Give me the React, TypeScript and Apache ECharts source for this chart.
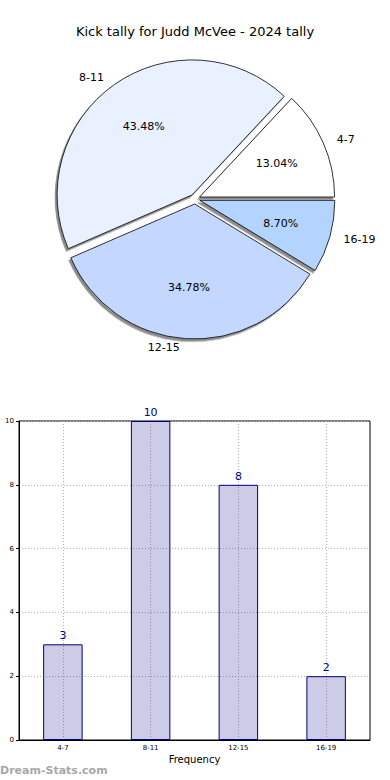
import React, { useEffect, useRef } from "react";
import * as echarts from "echarts";

const title = "Kick tally for Judd McVee - 2024 tally";
const categories = ["4-7", "8-11", "12-15", "16-19"];
const counts = [3, 10, 8, 2];
const pieColors = ["#ffffff", "#e9f0ff", "#c4d7ff", "#b3d4ff"];
const yTicks = { min: 0, max: 10, interval: 2 };
const xAxisName = "Frequency";
const yAxisName = "Number of kicks";
const watermark = "Dream-Stats.com";

const FONT = "DejaVu Sans";

export default function App() {
  const ref = useRef<HTMLDivElement>(null);
  useEffect(() => {
    const chart = echarts.init(ref.current!, undefined, { renderer: "svg" });
    const R = 135;
    const center = [195, 199];
    const pieData = categories.map((c, i) => ({
      name: c,
      value: counts[i],
      selected: true,
      itemStyle: { color: pieColors[i] },
    }));
    chart.setOption({
      animation: false,
      backgroundColor: "#ffffff",
      title: {
        text: title,
        left: "center",
        top: 20,
        textStyle: { fontFamily: FONT, fontSize: 13, fontWeight: "normal", color: "#000" },
      },
      grid: {
        left: 19,
        right: 20,
        top: 421,
        bottom: 40,
        containLabel: false,
        outerBoundsMode: "none",
        show: true,
        borderColor: "#000",
        borderWidth: 1,
        backgroundColor: "transparent",
      },
      xAxis: {
        type: "category",
        data: categories,
        name: xAxisName,
        nameLocation: "middle",
        nameGap: 14,
        nameTextStyle: { fontFamily: FONT, fontSize: 10, color: "#000" },
        axisLine: { lineStyle: { color: "#000", width: 1 } },
        axisTick: { alignWithLabel: true, length: 3, lineStyle: { color: "#000" } },
        axisLabel: { fontFamily: FONT, fontSize: 7, color: "#000", margin: 4 },
        splitLine: {
          show: true,
          alignWithLabel: true,
          lineStyle: { color: "#b0b0b0", type: [1, 2], width: 1 },
        },
      },
      yAxis: {
        type: "value",
        min: yTicks.min,
        max: yTicks.max,
        interval: yTicks.interval,
        name: yAxisName,
        nameLocation: "middle",
        nameGap: 15,
        nameTextStyle: { fontFamily: FONT, fontSize: 9, color: "#000" },
        axisLine: { show: true, lineStyle: { color: "#000", width: 1 } },
        axisTick: { show: true, length: 3, lineStyle: { color: "#000" } },
        axisLabel: { fontFamily: FONT, fontSize: 7, color: "#000", margin: 5 },
        splitLine: { show: true, lineStyle: { color: "#b0b0b0", type: [1, 2], width: 1 } },
      },
      graphic: [
        {
          type: "text",
          left: 0,
          top: 765,
          style: {
            text: watermark,
            fontFamily: FONT,
            fontSize: 11,
            fontWeight: "bold",
            fill: "#a8a8a8",
          },
        },
      ],
      series: [
        {
          type: "pie",
          center,
          radius: R,
          startAngle: 0,
          clockwise: false,
          selectedMode: "multiple",
          selectedOffset: 5,
          silent: true,
          emphasis: { disabled: true },
          itemStyle: {
            borderColor: "#000",
            borderWidth: 0.8,
            shadowColor: "rgba(0,0,0,0.45)",
            shadowBlur: 0,
            shadowOffsetX: -2,
            shadowOffsetY: 2.5,
          },
          label: {
            show: true,
            position: "outside",
            formatter: "{b}",
            fontFamily: FONT,
            fontSize: 11,
            color: "#000",
            distanceToLabelLine: 5,
          },
          labelLine: { show: false, length: 9, length2: 0 },
          data: pieData,
        },
        {
          type: "pie",
          center,
          radius: [R * 0.2, R],
          startAngle: 0,
          clockwise: false,
          selectedMode: "multiple",
          selectedOffset: 5,
          silent: true,
          emphasis: { disabled: true },
          itemStyle: { color: "transparent", borderWidth: 0 },
          label: {
            show: true,
            position: "inside",
            formatter: (p: any) => p.percent.toFixed(2) + "%",
            fontFamily: FONT,
            fontSize: 11,
            color: "#000",
          },
          labelLine: { show: false },
          data: categories.map((c, i) => ({
            name: c,
            value: counts[i],
            selected: true,
            itemStyle: { color: "transparent" },
          })),
        },
        {
          type: "bar",
          data: counts,
          barWidth: "45%",
          itemStyle: {
            color: "rgba(0,0,128,0.2)",
            borderColor: "#000080",
            borderWidth: 1,
          },
          label: {
            show: true,
            position: "top",
            distance: 3,
            fontFamily: FONT,
            fontSize: 11,
            color: "#000080",
          },
        },
      ],
    });
    return () => chart.dispose();
  }, []);
  return (
    <div
      ref={ref}
      style={{ position: "fixed", left: 0, top: 0, width: 390, height: 780 }}
    />
  );
}
